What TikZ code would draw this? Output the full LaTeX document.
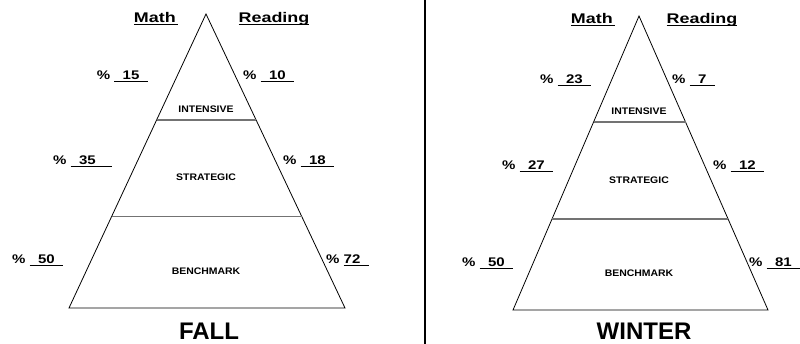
\documentclass[tikz,border=0pt]{standalone}
\usepackage{fontspec}
\setmainfont{Liberation Sans}
\newfontfamily\headfont[FakeStretch=1.28]{Liberation Sans}
\newfontfamily\pctfont[FakeStretch=1.2]{Liberation Sans}
\newfontfamily\tierfont[FakeStretch=1.1]{Liberation Sans}
\usetikzlibrary{calc}
\newcommand\uln[1]{\setbox0\hbox{#1}\rlap{\rule[-2.5pt]{\wd0}{1.1pt}}\box0}
\newcommand\us{\hphantom{\_}}
\tikzset{
  head/.style={font=\headfont\bfseries\fontsize{14}{16}\selectfont, anchor=base, inner sep=0pt},
  pct/.style={font=\pctfont\bfseries\fontsize{12.5}{14}\selectfont, anchor=base west, inner sep=0pt},
  tier/.style={font=\tierfont\bfseries\fontsize{9.5}{11}\selectfont, anchor=base, inner sep=0pt},
  season/.style={font=\bfseries\fontsize{24}{28}\selectfont, anchor=base, inner sep=0pt},
  outline/.style={line width=0.8pt, line join=miter},
  divider/.style={line width=1.3pt, draw=black!55},
  separator/.style={line width=1.3pt},
}
\begin{document}
\begin{tikzpicture}[x=1pt,y=-1pt]
\useasboundingbox[fill=white] (0,0) rectangle (800,344);

% separator
\coordinate (S1) at (425,0);
\coordinate (S2) at (425,344);
\draw[separator] (S1) -- (S2);

% ---------- FALL pyramid ----------
\coordinate (LA) at (206,14);
\coordinate (LL) at (69,308);
\coordinate (LR) at (345,308);
\draw[outline] (LA) -- (LR) -- (LL) -- cycle;
\coordinate (L1a) at ($(LA)!0.3605!(LL)$);
\coordinate (L1b) at ($(LA)!0.3605!(LR)$);
\coordinate (L2a) at ($(LA)!0.688!(LL)$);
\coordinate (L2b) at ($(LA)!0.688!(LR)$);
\draw[divider] (L1a) -- (L1b);
\draw[divider] (L2a) -- (L2b);

\node[head] (LMath) at (156,22.7) {\uln{Math\,}};
\node[head] (LRead) at (274,22.7) {\uln{Reading}};
\node[pct] (Lm1) at (96.7,79.5) {\% \uln{\us 15\us}};
\node[pct] (Lr1) at (243,79.5) {\% \uln{\us 10\us}};
\node[tier] (Lt1) at (206,112.3) {INTENSIVE};
\node[pct] (Lm2) at (53,165) {\% \uln{\us 35\us\us}};
\node[pct] (Lr2) at (283,165) {\% \uln{\us 18\us}};
\node[tier] (Lt2) at (206,180.7) {STRATEGIC};
\node[pct] (Lm3) at (12,264) {\% \uln{\us 50\us}};
\node[pct] (Lr3) at (326,264) {\% \uln{72\us}};
\node[tier] (Lt3) at (206,275) {BENCHMARK};
\node[season] (Lseason) at (209,339.5) {FALL};

% ---------- WINTER pyramid ----------
\coordinate (RA) at (639,16);
\coordinate (RL) at (513,310);
\coordinate (RR) at (768,310);
\draw[outline] (RA) -- (RR) -- (RL) -- cycle;
\coordinate (R1a) at ($(RA)!0.3605!(RL)$);
\coordinate (R1b) at ($(RA)!0.3605!(RR)$);
\coordinate (R2a) at ($(RA)!0.69!(RL)$);
\coordinate (R2b) at ($(RA)!0.69!(RR)$);
\draw[divider] (R1a) -- (R1b);
\draw[divider] (R2a) -- (R2b);

\node[head] (RMath) at (593,23.3) {\uln{Math\,}};
\node[head] (RRead) at (702,23.3) {\uln{Reading}};
\node[pct] (Rm1) at (540,84) {\% \uln{\us 23\us}};
\node[pct] (Rr1) at (672,84) {\% \uln{\us 7\us}};
\node[tier] (Rt1) at (639,115) {INTENSIVE};
\node[pct] (Rm2) at (502,170) {\% \uln{\us 27\us}};
\node[pct] (Rr2) at (713,170) {\% \uln{\us 12\us}};
\node[tier] (Rt2) at (639,184) {STRATEGIC};
\node[pct] (Rm3) at (462,266.5) {\% \uln{\us 50\us}};
\node[pct] (Rr3) at (749,266.5) {\% \uln{\us 81\us}};
\node[tier] (Rt3) at (639,276.7) {BENCHMARK};
\node[season] (Rseason) at (644,339.5) {WINTER};
\end{tikzpicture}
\end{document}
